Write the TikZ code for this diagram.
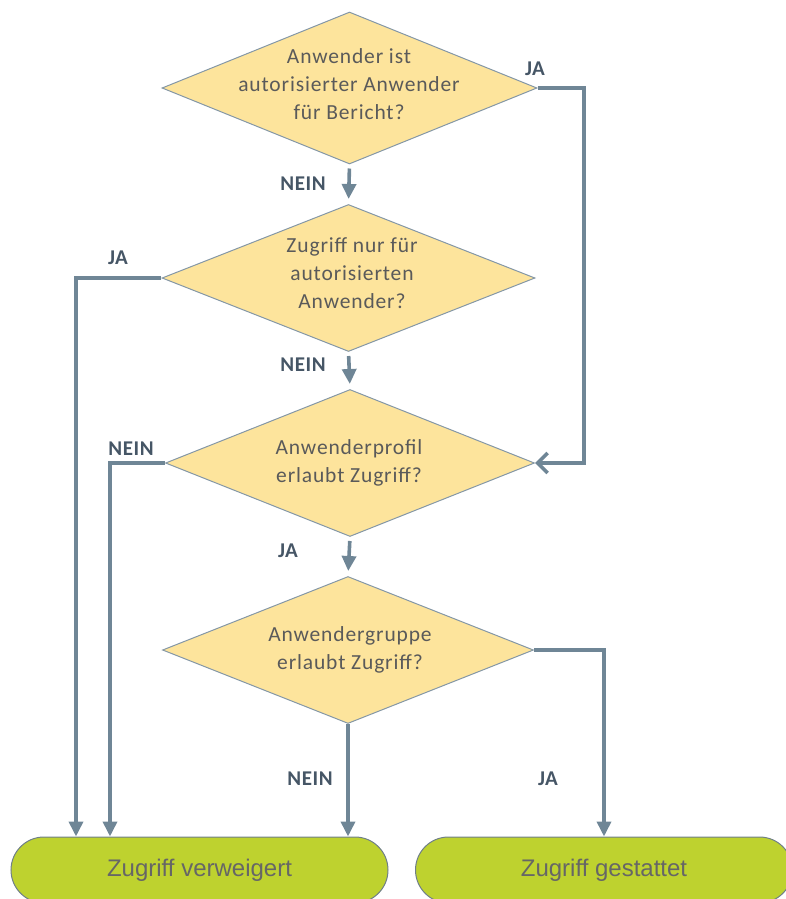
\documentclass[tikz,border=0pt]{standalone}
\usepackage{fontspec}
\setmainfont{Carlito}
\newfontfamily\dfont[LetterSpace=4]{Carlito}
\newfontfamily\lfont[LetterSpace=3]{Carlito}
\newfontfamily\efont{Liberation Sans}
\usetikzlibrary{shapes.geometric,shapes.misc,arrows.meta}
\definecolor{dfill}{HTML}{FDE49C}
\definecolor{dline}{HTML}{8497A6}
\definecolor{conn}{HTML}{6F8696}
\definecolor{efill}{HTML}{BED22F}
\definecolor{eline}{HTML}{6F7F88}
\definecolor{dtext}{HTML}{5A5A5A}
\definecolor{ltext}{HTML}{465666}
\definecolor{etext}{HTML}{666666}
\begin{document}
\begin{tikzpicture}[x=1bp,y=-1bp,
  dec/.style 2 args={diamond, draw=dline, line width=1bp, fill=dfill, inner sep=0pt,
    minimum width=#1, minimum height=#2},
  dtxt/.style={align=center, text=dtext, inner sep=0pt,
    font=\dfont\fontsize{21.5bp}{28bp}\selectfont},
  lbl/.style={text=ltext, inner sep=0pt, font=\lfont\bfseries\fontsize{21bp}{24bp}\selectfont},
  term/.style={rounded rectangle, draw=eline, line width=1bp, fill=efill, inner sep=0pt,
    minimum width=377bp, minimum height=66bp, text=etext,
    font=\efont\fontsize{24bp}{28bp}\selectfont},
  conline/.style={draw=conn, line width=3.6bp},
  arr/.style={conline, -{Triangle[length=15bp,width=14bp]}},
  oarr/.style={conline, -{Straight Barb[length=10bp,width=20bp]}}
]
\useasboundingbox (0,0) rectangle (786,899);
\clip (0,0) rectangle (786,899);

% decisions
\node[dec={375bp}{152bp}] (d1) at (349.5,88) {};
\node[dec={373bp}{147bp}] (d2) at (348.5,278) {};
\node[dec={369bp}{147bp}] (d3) at (350,463) {};
\node[dec={371bp}{147bp}] (d4) at (348,650) {};

\node[dtxt] (t1) at (349,84) {Anwender ist\\autorisierter Anwender\\für Bericht?};
\node[dtxt] (t2) at (352,273) {Zugriff nur für\\autorisierten\\Anwender?};
\node[dtxt] (t3) at (349,463) {Anwenderprofil\\erlaubt Zugriff?};
\node[dtxt] (t4) at (350,650) {Anwendergruppe\\erlaubt Zugriff?};

% terminals
\node[term] (e1) at (199.5,870) {\raisebox{-2bp}{Zugriff verweigert}};
\node[term] (e2) at (604,870) {\raisebox{-2bp}{Zugriff gestattet}};

% helper coordinates
\coordinate (c1) at (584,88);
\coordinate (c2) at (76,278);
\coordinate (c3) at (110,463);

% connectors
\draw[arr, shorten <=4bp, shorten >=5bp] (d1.south) -- (d2.north);
\draw[arr, shorten <=4bp, shorten >=5bp] (d2.south) -- (d3.north);
\draw[arr, shorten <=4bp, shorten >=5bp] (d3.south) -- (d4.north);
\draw[oarr, line join=miter] (d1.east) -- (c1) |- (d3.east);
\draw[arr] (d2.west) -- (c2) -- (c2 |- e1.north);
\draw[arr] (d3.west) -- (c3) -- (c3 |- e1.north);
\draw[arr] (d4.south) -- (d4.south |- e1.north);
\draw[arr] (d4.east) -| (e2.north);

% labels
\node[lbl] (l1) at (535,69) {JA};
\node[lbl] (l2) at (303,184) {NEIN};
\node[lbl] (l3) at (118,258) {JA};
\node[lbl] (l4) at (303,365) {NEIN};
\node[lbl] (l5) at (131,449) {NEIN};
\node[lbl] (l6) at (288,551) {JA};
\node[lbl] (l7) at (310,779) {NEIN};
\node[lbl] (l8) at (548,779) {JA};
\end{tikzpicture}
\end{document}
